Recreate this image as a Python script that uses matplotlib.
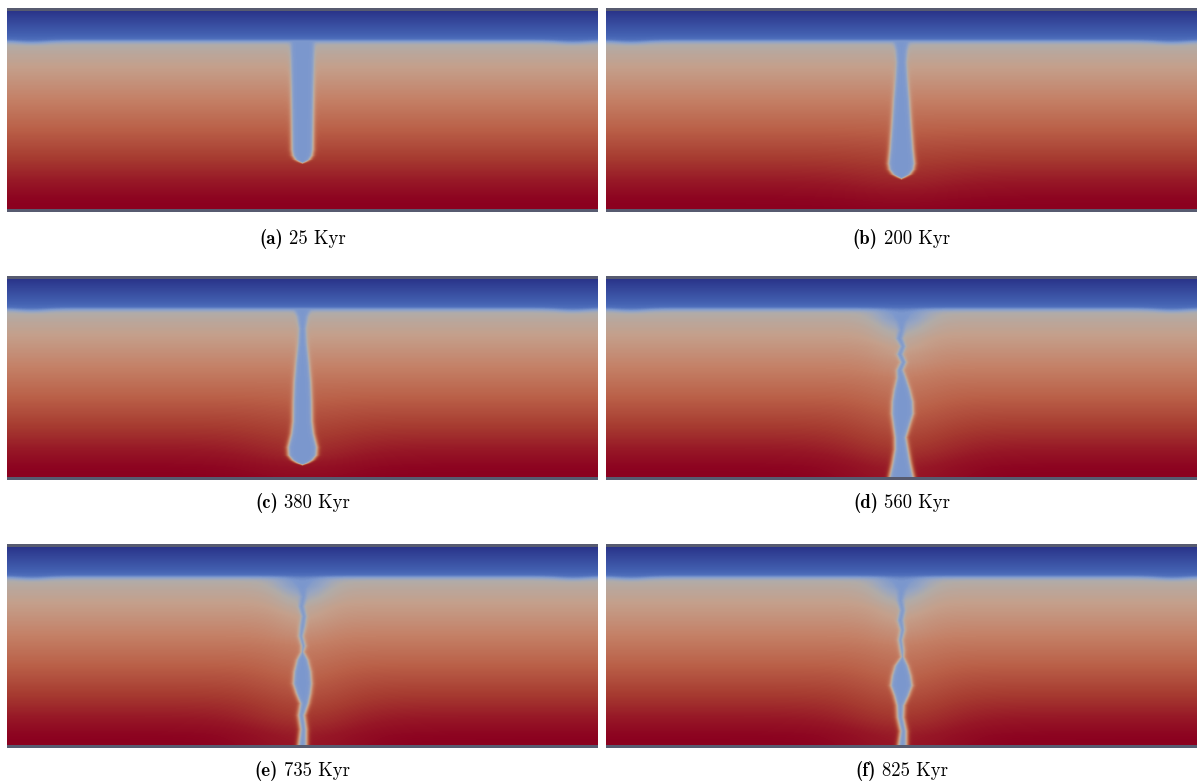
import numpy as np
import matplotlib

matplotlib.use("Agg")
import matplotlib.pyplot as plt
from matplotlib.colors import LinearSegmentedColormap

PANEL_LABELS = ["a", "b", "c", "d", "e", "f"]
TIMES_KYR = [25, 200, 380, 560, 735, 825]

# colour scale picked off the snapshots
CMAP_VALUES = [0.00, 0.12, 0.24, 0.30, 0.37, 0.42, 0.46, 0.52, 0.62, 0.72, 0.82, 0.90, 0.97, 1.00]
CMAP_RGB = [
    (42, 52, 138), (55, 75, 158), (68, 98, 178), (80, 112, 188), (124, 152, 206),
    (152, 166, 194), (178, 172, 168), (196, 160, 140), (196, 128, 102), (186, 96, 72),
    (166, 58, 48), (150, 22, 38), (140, 2, 32), (138, 0, 30),
]

# background temperature vs normalised depth
LITH_BASE = 0.152
LITH_DEPTH = [0.0, 0.152]
LITH_TEMP = [0.0, 0.30]
MANTLE_DEPTH = [0.152, 0.22, 0.30, 0.45, 0.60, 0.75, 0.87, 0.95, 1.0]
MANTLE_TEMP = [0.45, 0.49, 0.53, 0.62, 0.72, 0.82, 0.90, 0.96, 0.98]
SLAB_TEMP = 0.37

# slab outline per snapshot: depth, half width (px), centre shift (px)
A_DEPTH = [0.00, 0.30, 0.70, 0.73, 0.75, 0.762, 0.775]
A_HALF = [11.5, 11.5, 11.5, 10.5, 8.0, 4.0, -3.0]
A_SHIFT = [0, 0, 0, 0, 0, 0, 0]

B_DEPTH = [0.00, 0.15, 0.20, 0.26, 0.35, 0.45, 0.58, 0.70, 0.77, 0.80, 0.825, 0.84, 0.855]
B_HALF = [7.5, 7.5, 5.5, 5, 6.5, 8.5, 10.5, 12.5, 14, 13, 9.5, 4, -3]
B_SHIFT = [0] * 13

C_DEPTH = [0.00, 0.15, 0.19, 0.25, 0.32, 0.42, 0.52, 0.62, 0.72, 0.78, 0.85, 0.89, 0.915, 0.93, 0.945]
C_HALF = [9, 8, 5, 3.5, 4.5, 7, 9, 10, 10.5, 12, 15.5, 15, 11, 6, -3]
C_SHIFT = [0] * 15

D_DEPTH = [0.00, 0.14, 0.18, 0.22, 0.26, 0.30, 0.34, 0.38, 0.42, 0.46, 0.50, 0.56, 0.62, 0.68, 0.74, 0.80, 0.86, 0.93, 1.00]
D_HALF = [14, 13, 8, 4, 2.5, 3, 2.5, 3, 3, 3.5, 5, 8.5, 11, 11.5, 9, 6.5, 7.5, 10, 13]
D_SHIFT = [0, 0, 0, 0, 0, -2, 1.5, -1.5, 2, -1.5, 0, 0.5, 1, 1, 0, -1, 0, 0, 0]

E_DEPTH = [0.00, 0.13, 0.17, 0.21, 0.25, 0.30, 0.35, 0.40, 0.45, 0.50, 0.53, 0.57, 0.63, 0.69, 0.74, 0.79, 0.85, 0.92, 1.00]
E_HALF = [18, 16, 9, 4, 2.5, 2.5, 2.5, 3, 2.5, 2.5, 1.8, 6, 9, 10, 8, 5, 4, 4, 5]
E_SHIFT = [0, 0, 0, 0, 1, -1, 1.5, 0, -1.5, 1, 0, 0, 0, 0, 1, 2, -1, 1, 0]

F_DEPTH = [0.00, 0.13, 0.17, 0.22, 0.27, 0.32, 0.37, 0.42, 0.47, 0.52, 0.555, 0.60, 0.65, 0.70, 0.75, 0.80, 0.86, 0.93, 1.00]
F_HALF = [18, 16, 9, 3.5, 2.5, 2.5, 3, 2.5, 2.5, 2.5, 1.8, 7, 10, 11.5, 8, 4.5, 4, 4, 5]
F_SHIFT = [0, 0, 0, 0, -1, 1, -1, 1, -1, 0.5, 1, 0, 0, 0, 0, -1, -1, 2, 1]

# cooling halo of the mantle around the slab: depth, amplitude, width (px)
HALO_DEPTH = [0.0, 0.15, 0.20, 0.30, 0.50, 0.70, 0.90, 1.00]
HALO_SIGMA = [18, 18, 20, 20, 25, 35, 45, 50]
A_HALO = [0, 0, 0, 0, 0, 0, 0, 0]
B_HALO = [0, 0, 0, 0, 0, 0.01, 0.03, 0.02]
C_HALO = [0, 0, 0, 0, 0, 0.02, 0.05, 0.04]
D_HALO = [0, 0.09, 0.09, 0.05, 0.03, 0.05, 0.07, 0.08]
E_HALO = [0, 0.09, 0.09, 0.05, 0.03, 0.05, 0.07, 0.08]
F_HALO = [0, 0.09, 0.09, 0.05, 0.03, 0.05, 0.07, 0.08]

PROFILES = [
    (A_DEPTH, A_HALF, A_SHIFT, A_HALO),
    (B_DEPTH, B_HALF, B_SHIFT, B_HALO),
    (C_DEPTH, C_HALF, C_SHIFT, C_HALO),
    (D_DEPTH, D_HALF, D_SHIFT, D_HALO),
    (E_DEPTH, E_HALF, E_SHIFT, E_HALO),
    (F_DEPTH, F_HALF, F_SHIFT, F_HALO),
]

NX, NY = 591, 198
CENTER_X = 295.5
BORDER = "#575b70"

FIG_W, FIG_H = 1198, 784
COL_LEFT = [7, 606]
ROW_TOP = [8, 276, 544]
PANEL_W, PANEL_H = 591, 204
CAPTION_Y = [239, 503, 771]
CAPTION_SIZE = 13.5


def build_cmap() -> LinearSegmentedColormap:
    stops = [(v, tuple(c / 255 for c in rgb)) for v, rgb in zip(CMAP_VALUES, CMAP_RGB)]
    return LinearSegmentedColormap.from_list("slab", stops)


def temperature_field(depth, half, shift, halo) -> np.ndarray:
    y = (np.arange(NY) + 0.5) / NY
    x = np.arange(NX) + 0.5
    yy, xx = np.meshgrid(y, x, indexing="ij")

    base_depth = LITH_BASE + 0.008 * (np.exp(-((xx - 25) / 20) ** 2) + np.exp(-((xx - 566) / 20) ** 2))
    lith = np.interp(yy, LITH_DEPTH, LITH_TEMP)
    mantle = np.interp(yy, MANTLE_DEPTH, MANTLE_TEMP)

    dx = xx - (CENTER_X + np.interp(yy, depth, shift))
    amp = np.interp(yy, HALO_DEPTH, halo)
    sig = np.interp(yy, HALO_DEPTH, HALO_SIGMA)
    mantle = mantle - amp * np.exp(-0.5 * (dx / sig) ** 2)

    s = 0.5 * (1 + np.tanh((yy - base_depth) / 0.013))
    temp = lith * (1 - s) + mantle * s

    # below the slab tip there is no slab at all
    hw = np.interp(yy, depth, half, right=-30.0 if half[-1] < 0 else half[-1])
    m = 0.5 * (1 + np.tanh((hw - np.abs(dx)) / 2.3))
    temp = temp - m * np.clip(temp - SLAB_TEMP, 0, None)
    return temp


def add_caption(fig, renderer, cx, cy, label, time) -> None:
    bold = fig.text(0, cy, f"({label})", fontfamily="cmb10", fontsize=CAPTION_SIZE, va="center")
    rest = fig.text(0, cy, f"{time} Kyr", fontfamily="cmr10", fontsize=CAPTION_SIZE, va="center")
    w_bold = bold.get_window_extent(renderer).width
    w_rest = rest.get_window_extent(renderer).width
    gap = 0.33 * CAPTION_SIZE * fig.dpi / 72
    x0 = cx - (w_bold + gap + w_rest) / 2
    bold.set_x(x0 / FIG_W)
    rest.set_x((x0 + w_bold + gap) / FIG_W)


def main() -> None:
    cmap = build_cmap()
    fig = plt.figure(figsize=(FIG_W / 100, FIG_H / 100), dpi=100)
    renderer = fig.canvas.get_renderer()

    for i, (label, time, profile) in enumerate(zip(PANEL_LABELS, TIMES_KYR, PROFILES)):
        row, col = divmod(i, 2)
        left = COL_LEFT[col] / FIG_W
        bottom = 1 - (ROW_TOP[row] + PANEL_H) / FIG_H
        ax = fig.add_axes([left, bottom, PANEL_W / FIG_W, PANEL_H / FIG_H])
        ax.imshow(temperature_field(*profile), cmap=cmap, vmin=0, vmax=1,
                  extent=(0, NX, NY + 3, 3), aspect="auto", interpolation="bilinear")
        ax.axhspan(0, 3, color=BORDER, lw=0)
        ax.axhspan(NY + 3, NY + 6, color=BORDER, lw=0)
        ax.set_xlim(0, NX)
        ax.set_ylim(NY + 6, 0)
        ax.axis("off")

        add_caption(fig, renderer, COL_LEFT[col] + PANEL_W / 2,
                    1 - CAPTION_Y[row] / FIG_H, label, time)

    fig.savefig("out.png", dpi=100)


if __name__ == "__main__":
    main()
